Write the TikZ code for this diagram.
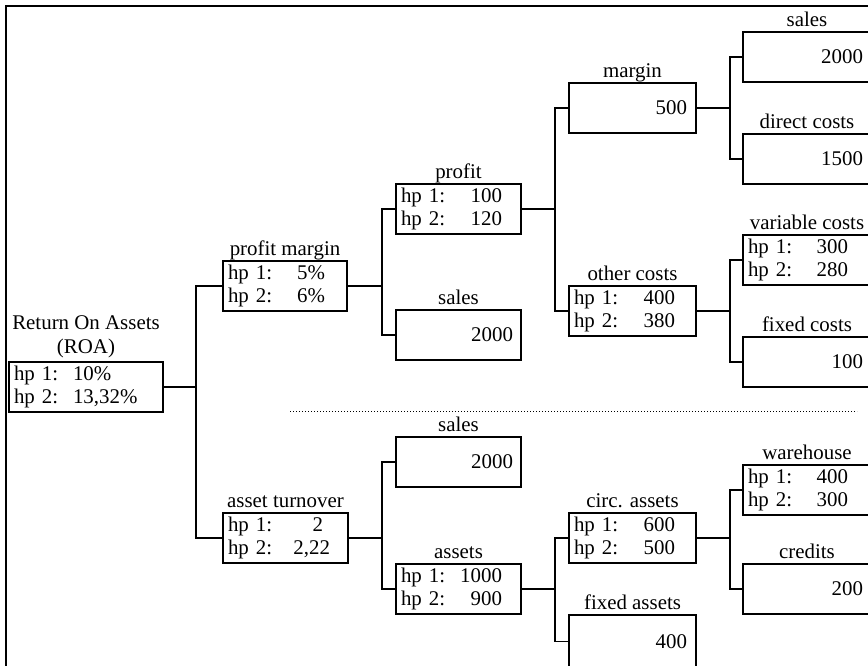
\documentclass[tikz,border=0pt]{standalone}
\usepackage{fontspec}
\setmainfont{Liberation Serif}
\usetikzlibrary{calc}
\tikzset{
  every node/.style={font=\fontsize{20.9}{23}\selectfont},
  box/.style={draw, line width=1.6pt, rectangle, anchor=north west, minimum height=50pt, inner ysep=0pt, outer sep=0pt},
  lbl/.style={anchor=base, inner sep=0pt},
  wire/.style={line width=1.6pt},
  sepline/.style={line width=1pt, dash pattern=on 1pt off 2pt},
  frame/.style={line width=2pt},
}
% one value box: name, left, top, width, label, value, right pad
\newcommand\onebox[7]{%
  \node[box, minimum width=#4pt, inner xsep=#7pt, text width=\dimexpr #4pt-#7pt*2\relax, align=right] (#1) at (#2,#3) {#6};
  \node[lbl] (#1-l) at ($(#1.north)+(0,-6)$) {#5};
}
% two value box: name, left, top, width, label, value1, value2, right pad
\newcommand\twobox[8]{%
  \node[box, minimum width=#4pt, inner xsep=5pt, text width=\dimexpr #4pt-10pt\relax, align=left] (#1) at (#2,#3)
    {\hbox to \linewidth{hp 1:\hfill #6\hspace{\dimexpr #8pt-5pt\relax}}\\\hbox to \linewidth{hp 2:\hfill #7\hspace{\dimexpr #8pt-5pt\relax}}};
  \node[lbl] (#1-l) at ($(#1.north)+(0,-6)$) {#5};
}
\begin{document}
\begin{tikzpicture}[x=1pt,y=-1pt]
\useasboundingbox (0,0) rectangle (868,665);
\clip (0,0) rectangle (868,665);
% frame
\draw[frame] (6,700) -- (6,6) -- (900,6);
% root
\node[box, minimum width=154pt, inner xsep=5pt, text width=144pt, align=left] (roa) at (9,362)
  {\makebox[59pt][l]{hp 1:}10\%\\\makebox[59pt][l]{hp 2:}13,32\%};
\node[lbl] (roa-l2) at ($(roa.north)+(0,-9)$) {(ROA)};
\node[lbl] (roa-l1) at ($(roa.north)+(0,-33)$) {Return On Assets};
% column 2
\twobox{pm}{223}{261}{124}{profit margin}{5\%}{6\%}{22}
\twobox{at}{223}{513}{125}{asset turnover}{2\hspace{7pt}}{2,22}{18}
% column 3
\twobox{profit}{396}{184}{125}{profit}{100}{120}{19}
\onebox{salesA}{396}{310}{125}{sales}{2000}{8}
\onebox{salesB}{396}{437}{125}{sales}{2000}{8}
\twobox{assets}{396}{564}{125}{assets}{1000}{900}{19}
% column 4
\onebox{margin}{569}{83}{127}{margin}{500}{9}
\twobox{other}{569}{286}{127}{other costs}{400}{380}{21}
\twobox{circ}{569}{513}{127}{circ. assets}{600}{500}{21}
\node[box, minimum width=127pt, minimum height=53pt, inner xsep=9pt, text width=109pt, align=right] (fixedA) at (569,615) {400};
\node[lbl] (fixedA-l) at ($(fixedA.north)+(0,-6)$) {fixed assets};
% column 5
\onebox{salesC}{743}{32}{128}{sales}{2000}{8}
\onebox{direct}{743}{134}{128}{direct costs}{1500}{8}
\twobox{var}{743}{235}{128}{variable costs}{300}{280}{23}
\onebox{fixedc}{743}{337}{128}{fixed costs}{100}{8}
\twobox{ware}{743}{465}{128}{warehouse}{400}{300}{23}
\onebox{credits}{743}{564}{128}{credits}{200}{8}
% connectors
\draw[wire] (pm.west) -- ++(-27,0) coordinate (b1) |- (at.west);
\draw[wire] (roa.east) -- (roa.east -| b1);
\draw[wire] (profit.west) -- ++(-14,0) coordinate (b2) |- (salesA.west);
\draw[wire] (pm.east) -- (pm.east -| b2);
\draw[wire] (salesB.west) -- ++(-14,0) coordinate (b3) |- (assets.west);
\draw[wire] (at.east) -- (at.east -| b3);
\draw[wire] (margin.west) -- ++(-14,0) coordinate (b4) |- (other.west);
\draw[wire] (profit.east) -- (profit.east -| b4);
\draw[wire] (circ.west) -- ++(-14,0) coordinate (b5) |- (fixedA.west);
\draw[wire] (assets.east) -- (assets.east -| b5);
\draw[wire] (salesC.west) -- ++(-13,0) coordinate (b6) |- (direct.west);
\draw[wire] (margin.east) -- (margin.east -| b6);
\draw[wire] (var.west) -- ++(-13,0) coordinate (b7) |- (fixedc.west);
\draw[wire] (other.east) -- (other.east -| b7);
\draw[wire] (ware.west) -- ++(-13,0) coordinate (b8) |- (credits.west);
\draw[wire] (circ.east) -- (circ.east -| b8);
% separator
\coordinate (sepA) at (290,411);
\coordinate (sepB) at (857,411);
\draw[sepline] (sepA) -- (sepB);
\end{tikzpicture}
\end{document}
